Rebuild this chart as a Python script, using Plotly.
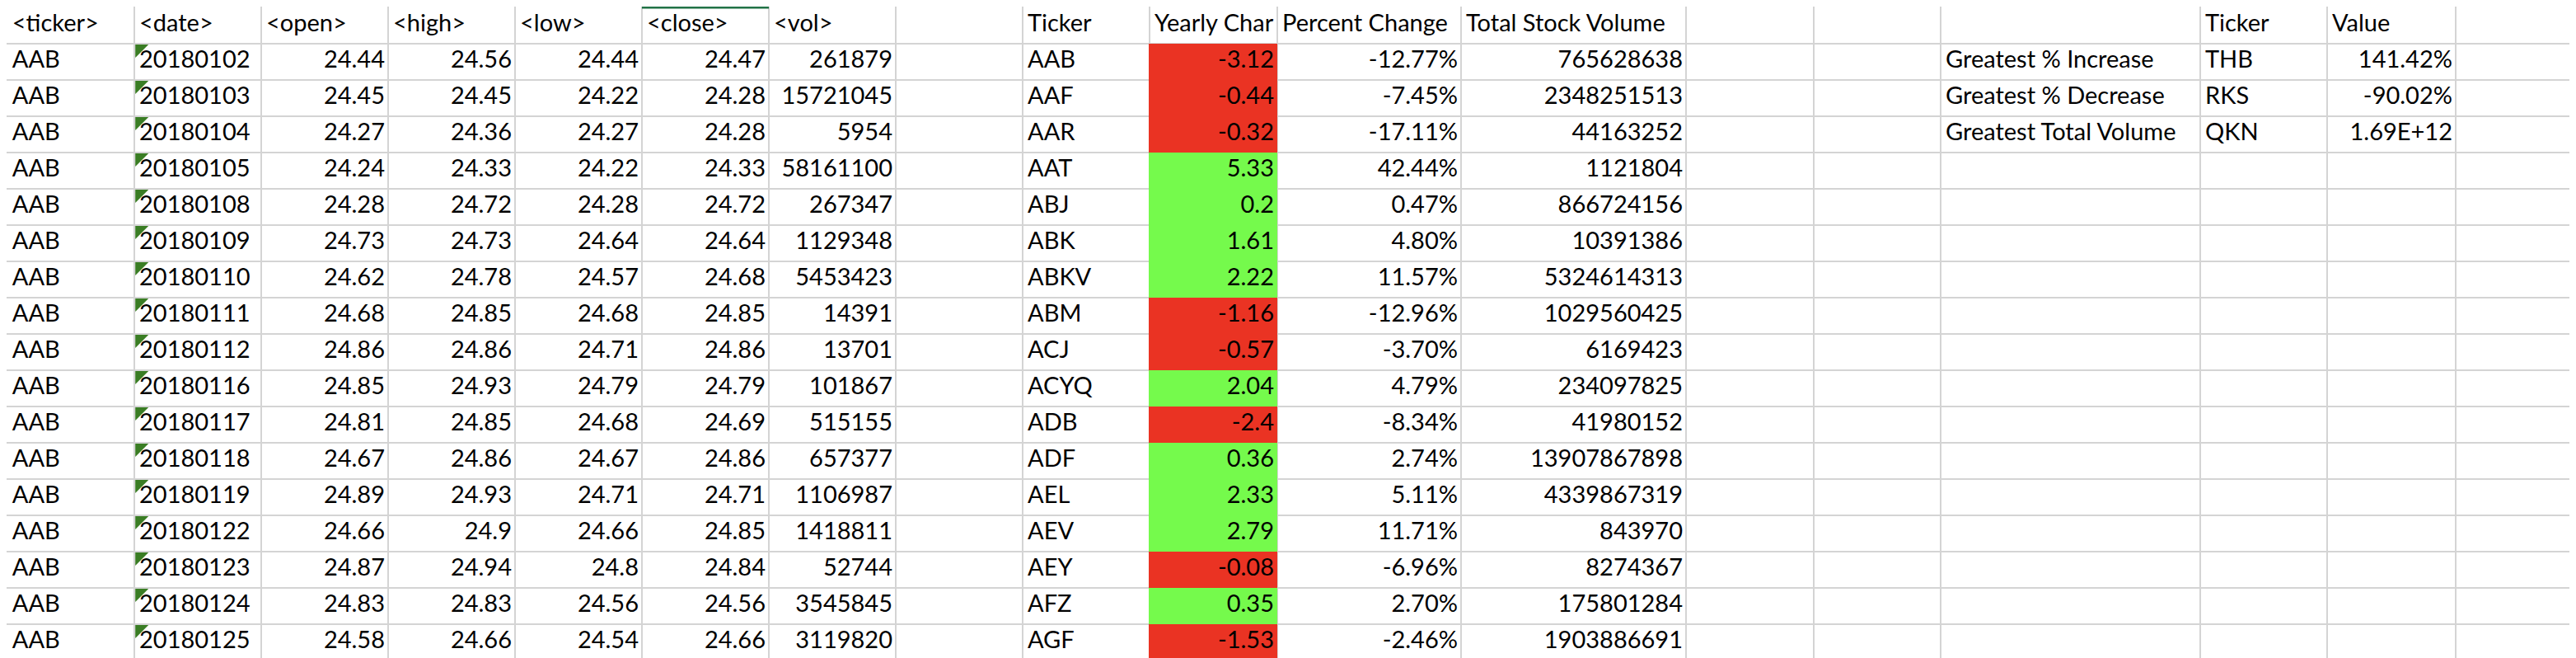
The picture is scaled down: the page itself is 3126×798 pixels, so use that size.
import plotly.graph_objects as go

# ---- raw price data (left block) ----
raw_headers = ["<ticker>", "<date>", "<open>", "<high>", "<low>", "<close>", "<vol>"]
raw_ticker = ["AAB"] * 17
raw_date = ["20180102", "20180103", "20180104", "20180105", "20180108", "20180109",
            "20180110", "20180111", "20180112", "20180116", "20180117", "20180118",
            "20180119", "20180122", "20180123", "20180124", "20180125"]
raw_open = [24.44, 24.45, 24.27, 24.24, 24.28, 24.73, 24.62, 24.68, 24.86, 24.85,
            24.81, 24.67, 24.89, 24.66, 24.87, 24.83, 24.58]
raw_high = [24.56, 24.45, 24.36, 24.33, 24.72, 24.73, 24.78, 24.85, 24.86, 24.93,
            24.85, 24.86, 24.93, 24.9, 24.94, 24.83, 24.66]
raw_low = [24.44, 24.22, 24.27, 24.22, 24.28, 24.64, 24.57, 24.68, 24.71, 24.79,
           24.68, 24.67, 24.71, 24.66, 24.8, 24.56, 24.54]
raw_close = [24.47, 24.28, 24.28, 24.33, 24.72, 24.64, 24.68, 24.85, 24.86, 24.79,
             24.69, 24.86, 24.71, 24.85, 24.84, 24.56, 24.66]
raw_vol = [261879, 15721045, 5954, 58161100, 267347, 1129348, 5453423, 14391, 13701,
           101867, 515155, 657377, 1106987, 1418811, 52744, 3545845, 3119820]

# ---- per-ticker summary (middle block) ----
# "Yearly Change" header is cut off by the next cell in the sheet, so only "Yearly Char" shows
summary_headers = ["Ticker", "Yearly Char", "Percent Change", "Total Stock Volume"]
summary_ticker = ["AAB", "AAF", "AAR", "AAT", "ABJ", "ABK", "ABKV", "ABM", "ACJ",
                  "ACYQ", "ADB", "ADF", "AEL", "AEV", "AEY", "AFZ", "AGF"]
yearly_change = [-3.12, -0.44, -0.32, 5.33, 0.2, 1.61, 2.22, -1.16, -0.57, 2.04,
                 -2.4, 0.36, 2.33, 2.79, -0.08, 0.35, -1.53]
percent_change = [-12.77, -7.45, -17.11, 42.44, 0.47, 4.80, 11.57, -12.96, -3.70,
                  4.79, -8.34, 2.74, 5.11, 11.71, -6.96, 2.70, -2.46]
total_volume = [765628638, 2348251513, 44163252, 1121804, 866724156, 10391386,
                5324614313, 1029560425, 6169423, 234097825, 41980152, 13907867898,
                4339867319, 843970, 8274367, 175801284, 1903886691]
# next summary row is cut off by the bottom edge, only its red fill shows
cut_row_negative = [True]

# ---- greatest values (right block) ----
greatest_headers = ["Ticker", "Value"]
greatest_labels = ["Greatest % Increase", "Greatest % Decrease", "Greatest Total Volume"]
greatest_ticker = ["THB", "RKS", "QKN"]
greatest_pct = [141.42, -90.02]
greatest_volume = [1.69e12]

# ---- sheet geometry ----
W, H = 3126, 798
ROW_H = 44
col_edges = [0.8, 155, 309, 463, 617, 771, 925, 1079, 1233, 1387, 1542, 1765,
             2038, 2193, 2347, 2662, 2816, 2972, 3126]
row_edges = [0.8] + [ROW_H * k + 0.7 for k in range(1, 19)]
FONT = dict(family="Lato, 'Open Sans', sans-serif", size=29, color="black")
RED, GREEN = "#EA3323", "#75FA4C"


def mid(r):
    return ROW_H * r + ROW_H / 2 + 1.2


def cells(col, rows, texts, align="left"):
    if align == "left":
        x, pos = col_edges[col] + 6, "middle right"
    else:
        x, pos = col_edges[col + 1] - 4, "middle left"
    return go.Scatter(x=[x] * len(texts), y=[mid(r) for r in rows], text=texts,
                      mode="text", textposition=pos, textfont=FONT,
                      hoverinfo="skip", showlegend=False)


def fmt(v):
    return f"{v:g}"


n = len(raw_date)
data_rows = list(range(1, n + 1))
fig = go.Figure()

# conditional fill of the yearly change column
signs = [v < 0 for v in yearly_change] + cut_row_negative
fill_rows = list(range(1, len(signs) + 1))
fig.add_trace(go.Bar(
    x=[col_edges[10] - col_edges[9] + 1] * len(signs),
    base=col_edges[9] - 1,
    y=[ROW_H * r + ROW_H / 2 + 0.7 for r in fill_rows],
    orientation="h", width=ROW_H,
    marker=dict(color=[RED if s else GREEN for s in signs], line_width=0),
    hoverinfo="skip", showlegend=False))

# "number stored as text" markers in the date column
tx, ty = [], []
for r in range(1, n + 2):
    x0, y0 = col_edges[1] + 1.2, ROW_H * r + 2
    tx += [x0, x0 + 16, x0, x0, None]
    ty += [y0, y0, y0 + 16, y0, None]
fig.add_trace(go.Scatter(x=tx, y=ty, mode="lines", fill="toself",
                         fillcolor="#3A7D24", line_width=0,
                         hoverinfo="skip", showlegend=False))

# left block
for c, h in enumerate(raw_headers):
    fig.add_trace(cells(c, [0], [h]))
fig.add_trace(cells(0, data_rows, raw_ticker))
fig.add_trace(cells(1, data_rows, raw_date))
fig.add_trace(cells(2, data_rows, [fmt(v) for v in raw_open], "right"))
fig.add_trace(cells(3, data_rows, [fmt(v) for v in raw_high], "right"))
fig.add_trace(cells(4, data_rows, [fmt(v) for v in raw_low], "right"))
fig.add_trace(cells(5, data_rows, [fmt(v) for v in raw_close], "right"))
fig.add_trace(cells(6, data_rows, [str(v) for v in raw_vol], "right"))

# middle block
for c, h in zip([8, 9, 10, 11], summary_headers):
    fig.add_trace(cells(c, [0], [h]))
fig.add_trace(cells(8, data_rows, summary_ticker))
fig.add_trace(cells(9, data_rows, [fmt(v) for v in yearly_change], "right"))
fig.add_trace(cells(10, data_rows, [f"{v:.2f}%" for v in percent_change], "right"))
fig.add_trace(cells(11, data_rows, [str(v) for v in total_volume], "right"))

# right block
fig.add_trace(cells(15, [0], [greatest_headers[0]]))
fig.add_trace(cells(16, [0], [greatest_headers[1]]))
fig.add_trace(cells(14, [1, 2, 3], greatest_labels))
fig.add_trace(cells(15, [1, 2, 3], greatest_ticker))
g_vals = [f"{v:.2f}%" for v in greatest_pct] + [f"{v:.2E}" for v in greatest_volume]
fig.add_trace(cells(16, [1, 2, 3], g_vals, "right"))

# selected column indicator above <close>
fig.add_shape(type="line", x0=col_edges[5], x1=col_edges[6], y0=1, y1=1,
              line=dict(color="#217346", width=3))

grid = dict(showgrid=True, gridcolor="#D4D4D4", gridwidth=2, zeroline=False,
            showticklabels=False, ticks="", showline=False, tickmode="array",
            fixedrange=True)
fig.update_layout(
    width=W, height=H,
    margin=dict(l=0, r=0, t=0, b=0),
    plot_bgcolor="white", paper_bgcolor="white",
    xaxis=dict(range=[0, W], tickvals=col_edges, **grid),
    yaxis=dict(range=[H, 0], tickvals=row_edges, **grid),
    bargap=0,
)

fig.write_html("out.html")
